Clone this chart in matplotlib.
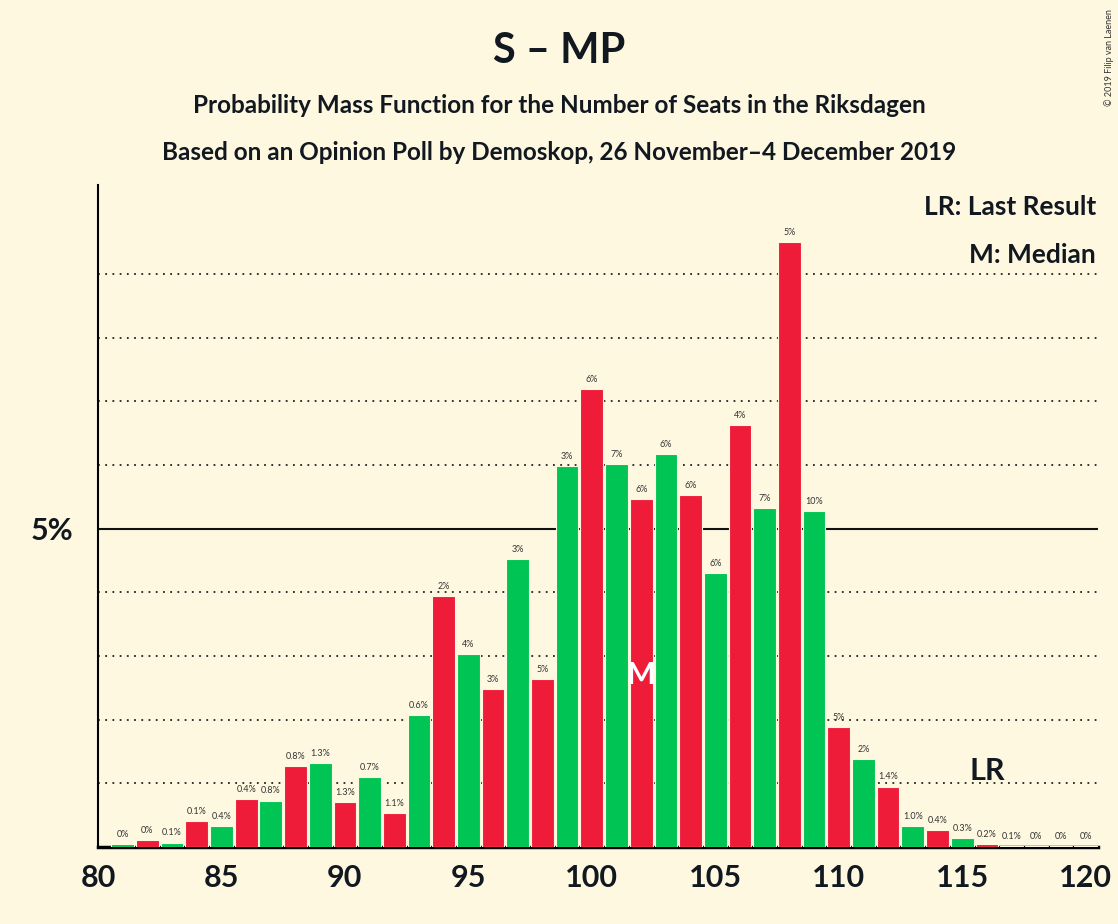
import matplotlib
matplotlib.use("Agg")
import matplotlib.pyplot as plt

seats = list(range(81, 121))
probs = [0.04,0.11,0.07,0.41,0.33,0.75,0.73,1.27,1.32,0.71,1.1,0.53,2.08,3.94,3.03,2.48,4.53,2.64,5.98,7.19,
         6.02,5.47,6.17,5.53,4.31,6.63,5.33,9.5,5.28,1.89,1.38,0.95,0.33,0.27,0.14,0.05,0.01,0.01,0.01,0.01]
labels = ["0%","0%","0.1%","0.1%","0.4%","0.4%","0.8%","0.8%","1.3%","1.3%","0.7%","1.1%","0.6%","2%","4%","3%","3%","5%","3%","6%",
          "7%","6%","6%","6%","6%","4%","7%","5%","10%","5%","2%","1.4%","1.0%","0.4%","0.3%","0.2%","0.1%","0%","0%","0%"]
median_seat = 102
last_result = 116

bg = "#FEF8E0"
green = "#00C453"
red = "#EE1C38"
plt.rcParams['font.family'] = ['Lato', 'DejaVu Sans']

fig = plt.figure(figsize=(11.18, 9.24), dpi=100, facecolor=bg)
ax = fig.add_axes([98/1118, 77/924, 1000/1118, 662/924], facecolor=bg)

for s, p, l in zip(seats, probs, labels):
    c = green if s % 2 == 1 else red
    ax.bar(s, p, width=0.92, color=c, edgecolor=bg, linewidth=0.8, zorder=3)
    ax.text(s, p + 0.08, l, ha='center', va='bottom', fontsize=6.5, color='#333333', zorder=4)

for g in [1, 2, 3, 4, 6, 7, 8, 9]:
    ax.axhline(g, color='#222222', linestyle=(0, (1, 3)), linewidth=1.3, zorder=1)
ax.axhline(5, color='#111111', linewidth=1.5, zorder=1)

mp = probs[seats.index(median_seat)]
ax.text(median_seat, 2.7, "M", ha='center', va='center', fontsize=22, color='white', fontweight='bold', zorder=5)
ax.text(last_result, 1.2, "LR", ha='center', va='center', fontsize=22, color='#111820', fontweight='bold', zorder=5)

ax.set_xlim(80, 120.5)
ax.set_ylim(0, 10.4)
ax.set_xticks([80, 85, 90, 95, 100, 105, 110, 115, 120])
ax.set_yticks([5])
ax.set_yticklabels(["5%"])
ax.tick_params(axis='x', labelsize=22, length=0, pad=12)
ax.tick_params(axis='y', labelsize=22, length=0, pad=18)
for lab in ax.get_xticklabels() + ax.get_yticklabels():
    lab.set_fontweight('bold')
    lab.set_color('#111820')
for sp in ['top', 'right']:
    ax.spines[sp].set_visible(False)
ax.spines['left'].set_linewidth(1.5)
ax.spines['bottom'].set_linewidth(2.5)

ax.text(0.998, 0.985, "LR: Last Result", transform=ax.transAxes, ha='right', va='top', fontsize=19, fontweight='bold', color='#111820')
ax.text(0.998, 0.912, "M: Median", transform=ax.transAxes, ha='right', va='top', fontsize=19, fontweight='bold', color='#111820')

fig.text(0.5, 0.945, "S – MP", ha='center', va='center', fontsize=30, fontweight='bold', color='#111820')
fig.text(0.5, 0.886, "Probability Mass Function for the Number of Seats in the Riksdagen", ha='center', va='center', fontsize=17.5, fontweight='bold', color='#111820')
fig.text(0.5, 0.835, "Based on an Opinion Poll by Demoskop, 26 November–4 December 2019", ha='center', va='center', fontsize=17.5, fontweight='bold', color='#111820')
fig.text(0.992, 0.99, "© 2019 Filip van Laenen", rotation=90, ha='center', va='top', fontsize=6.5, color='#333333')

fig.savefig("out.png", dpi=100, facecolor=bg)
